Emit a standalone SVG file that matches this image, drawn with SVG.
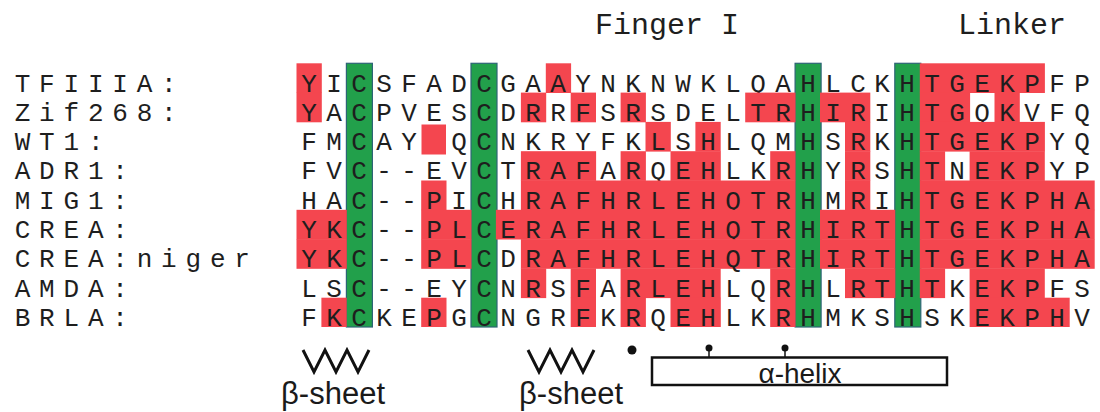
<svg xmlns="http://www.w3.org/2000/svg" width="1100" height="412" viewBox="0 0 1100 412">
<style>
.lbl{font-family:"Liberation Mono","Courier New",monospace;font-size:26px;fill:#1e1e1e;letter-spacing:8.8px}
.seq{font-family:"Liberation Mono","Courier New",monospace;font-size:26px;fill:#1e1e1e;text-anchor:middle}
.hdr{font-family:"Liberation Mono","Courier New",monospace;font-size:30px;fill:#1e1e1e}
.red{fill:#F4464F}
.grn{fill:#22A04B;stroke:#2D6475;stroke-width:1.2}
.ann{font-family:"Liberation Sans",Arial,sans-serif;fill:#1a1a1a;text-anchor:middle}
.zig{fill:none;stroke:#111;stroke-width:3;stroke-linejoin:miter}
</style>
<rect width="1100" height="412" fill="#ffffff"/>
<g id="headers">
<text class="hdr" x="595" y="34">Finger I</text>
<text class="hdr" x="958" y="34">Linker</text>
</g>
<g id="conserved-columns">
<rect class="grn" x="346.4" y="63.3" width="26" height="263.7"/>
<rect class="grn" x="471" y="63.3" width="26" height="263.7"/>
<rect class="grn" x="795.1" y="63.3" width="26" height="263.7"/>
<rect class="grn" x="894.8" y="63.3" width="26" height="263.7"/>
</g>
<g id="row-TFIIIA">
<rect class="red" x="296.5" y="63.3" width="25.3" height="29.7"/>
<rect class="red" x="545.8" y="63.3" width="25.3" height="29.7"/>
<rect class="red" x="919.8" y="63.3" width="125.1" height="29.7"/>
<text class="lbl" x="14.7" y="91.5">TFIIIA:</text>
<text class="seq" y="91.5" x="309 334 359 384 409 434 459 484 508 533 558 583 608 633 658 683 708 733 758 783 808 833 858 882 907 932 957 982 1007 1032 1057 1082">YICSFADCGAAYNKNWKLQAHLCKHTGEKPFP</text>
</g>
<g id="row-Zif268">
<rect class="red" x="296.5" y="92.6" width="25.3" height="29.7"/>
<rect class="red" x="520.9" y="92.6" width="25.3" height="29.7"/>
<rect class="red" x="570.7" y="92.6" width="25.3" height="29.7"/>
<rect class="red" x="620.6" y="92.6" width="25.3" height="29.7"/>
<rect class="red" x="745.2" y="92.6" width="50.3" height="29.7"/>
<rect class="red" x="820" y="92.6" width="50.3" height="29.7"/>
<rect class="red" x="919.8" y="92.6" width="50.3" height="29.7"/>
<rect class="red" x="994.5" y="92.6" width="25.3" height="29.7"/>
<text class="lbl" x="14.7" y="120.8">Zif268:</text>
<text class="seq" y="120.8" x="309 334 359 384 409 434 459 484 508 533 558 583 608 633 658 683 708 733 758 783 808 833 858 882 907 932 957 982 1007 1032 1057 1082">YACPVESCDRRFSRSDELTRHIRIHTGQKVFQ</text>
</g>
<g id="row-WT1">
<rect class="red" x="421.5" y="124.5" width="24.5" height="30"/>
<rect class="red" x="645.5" y="121.9" width="25.3" height="29.7"/>
<rect class="red" x="695.4" y="121.9" width="25.3" height="29.7"/>
<rect class="red" x="845" y="121.9" width="25.3" height="29.7"/>
<rect class="red" x="919.8" y="121.9" width="125.1" height="29.7"/>
<text class="lbl" x="14.7" y="150.1">WT1:</text>
<text class="seq" y="150.1" x="309 334 359 384 409 434 459 484 508 533 558 583 608 633 658 683 708 733 758 783 808 833 858 882 907 932 957 982 1007 1032 1057 1082">FMCAY QCNKRYFKLSHLQMHSRKHTGEKPYQ</text>
</g>
<g id="row-ADR1">
<rect class="red" x="520.9" y="151.2" width="75.2" height="29.7"/>
<rect class="red" x="620.6" y="151.2" width="25.3" height="29.7"/>
<rect class="red" x="670.5" y="151.2" width="50.3" height="29.7"/>
<rect class="red" x="770.2" y="151.2" width="25.3" height="29.7"/>
<rect class="red" x="845" y="151.2" width="25.3" height="29.7"/>
<rect class="red" x="919.8" y="151.2" width="25.3" height="29.7"/>
<rect class="red" x="969.6" y="151.2" width="75.2" height="29.7"/>
<text class="lbl" x="14.7" y="179.4">ADR1:</text>
<text class="seq" y="179.4" x="309 334 359 384 409 434 459 484 508 533 558 583 608 633 658 683 708 733 758 783 808 833 858 882 907 932 957 982 1007 1032 1057 1082">FVC--EVCTRAFARQEHLKRHYRSHTNEKPYP</text>
</g>
<g id="row-MIG1">
<rect class="red" x="421.2" y="180.5" width="25.3" height="29.7"/>
<rect class="red" x="520.9" y="180.5" width="274.6" height="29.7"/>
<rect class="red" x="845" y="180.5" width="25.3" height="29.7"/>
<rect class="red" x="919.8" y="180.5" width="174.9" height="29.7"/>
<text class="lbl" x="14.7" y="208.7">MIG1:</text>
<text class="seq" y="208.7" x="309 334 359 384 409 434 459 484 508 533 558 583 608 633 658 683 708 733 758 783 808 833 858 882 907 932 957 982 1007 1032 1057 1082">HAC--PICHRAFHRLEHQTRHMRIHTGEKPHA</text>
</g>
<g id="row-CREA">
<rect class="red" x="296.5" y="209.8" width="50.3" height="29.7"/>
<rect class="red" x="421.2" y="209.8" width="50.3" height="29.7"/>
<rect class="red" x="495.9" y="209.8" width="299.6" height="29.7"/>
<rect class="red" x="820" y="209.8" width="75.2" height="29.7"/>
<rect class="red" x="919.8" y="209.8" width="174.9" height="29.7"/>
<text class="lbl" x="14.7" y="238">CREA:</text>
<text class="seq" y="238" x="309 334 359 384 409 434 459 484 508 533 558 583 608 633 658 683 708 733 758 783 808 833 858 882 907 932 957 982 1007 1032 1057 1082">YKC--PLCERAFHRLEHQTRHIRTHTGEKPHA</text>
</g>
<g id="row-CREA-niger">
<rect class="red" x="296.5" y="239.1" width="50.3" height="29.7"/>
<rect class="red" x="421.2" y="239.1" width="50.3" height="29.7"/>
<rect class="red" x="520.9" y="239.1" width="274.6" height="29.7"/>
<rect class="red" x="820" y="239.1" width="75.2" height="29.7"/>
<rect class="red" x="919.8" y="239.1" width="174.9" height="29.7"/>
<text class="lbl" x="14.7" y="267.3">CREA:niger</text>
<text class="seq" y="267.3" x="309 334 359 384 409 434 459 484 508 533 558 583 608 633 658 683 708 733 758 783 808 833 858 882 907 932 957 982 1007 1032 1057 1082">YKC--PLCDRAFHRLEHQTRHIRTHTGEKPHA</text>
</g>
<g id="row-AMDA">
<rect class="red" x="520.9" y="268.4" width="25.3" height="29.7"/>
<rect class="red" x="570.7" y="268.4" width="25.3" height="29.7"/>
<rect class="red" x="620.6" y="268.4" width="100.1" height="29.7"/>
<rect class="red" x="770.2" y="268.4" width="25.3" height="29.7"/>
<rect class="red" x="845" y="268.4" width="50.3" height="29.7"/>
<rect class="red" x="919.8" y="268.4" width="25.3" height="29.7"/>
<rect class="red" x="969.6" y="268.4" width="75.2" height="29.7"/>
<text class="lbl" x="14.7" y="296.6">AMDA:</text>
<text class="seq" y="296.6" x="309 334 359 384 409 434 459 484 508 533 558 583 608 633 658 683 708 733 758 783 808 833 858 882 907 932 957 982 1007 1032 1057 1082">LSC--EYCNRSFARLEHLQRHLRTHTKEKPFS</text>
</g>
<g id="row-BRLA">
<rect class="red" x="321.4" y="297.7" width="25.3" height="29.3"/>
<rect class="red" x="421.2" y="297.7" width="25.3" height="29.3"/>
<rect class="red" x="570.7" y="297.7" width="25.3" height="29.3"/>
<rect class="red" x="620.6" y="297.7" width="25.3" height="29.3"/>
<rect class="red" x="670.5" y="297.7" width="50.3" height="29.3"/>
<rect class="red" x="770.2" y="297.7" width="25.3" height="29.3"/>
<rect class="red" x="969.6" y="297.7" width="100.1" height="29.3"/>
<text class="lbl" x="14.7" y="325.9">BRLA:</text>
<text class="seq" y="325.9" x="309 334 359 384 409 434 459 484 508 533 558 583 608 633 658 683 708 733 758 783 808 833 858 882 907 932 957 982 1007 1032 1057 1082">FKCKEPGCNGRFKRQEHLKRHMKSHSKEKPHV</text>
</g>
<g id="beta-sheet-1">
<polyline class="zig" points="303,350 314,372 325,350 336,372 347,350 358,372 369,350"/>
<text class="ann" x="333" y="404" font-size="31">β-sheet</text>
</g>
<g id="beta-sheet-2">
<polyline class="zig" points="528,350 539,372 550,350 561,372 572,350 583,372 594,350"/>
<text class="ann" x="571" y="404" font-size="31">β-sheet</text>
</g>
<g id="alpha-helix">
<circle cx="632" cy="350" r="4.5" fill="#111"/>
<line x1="709" y1="349" x2="709" y2="357" stroke="#111" stroke-width="1.5"/>
<circle cx="709" cy="348" r="3.5" fill="#111"/>
<line x1="785" y1="349" x2="785" y2="357" stroke="#111" stroke-width="1.5"/>
<circle cx="785" cy="348" r="3.5" fill="#111"/>
<rect x="652" y="357.5" width="295" height="27.5" fill="#ffffff" stroke="#111" stroke-width="2.5"/>
<text class="ann" x="800" y="382.5" font-size="28">α-helix</text>
</g>
</svg>
